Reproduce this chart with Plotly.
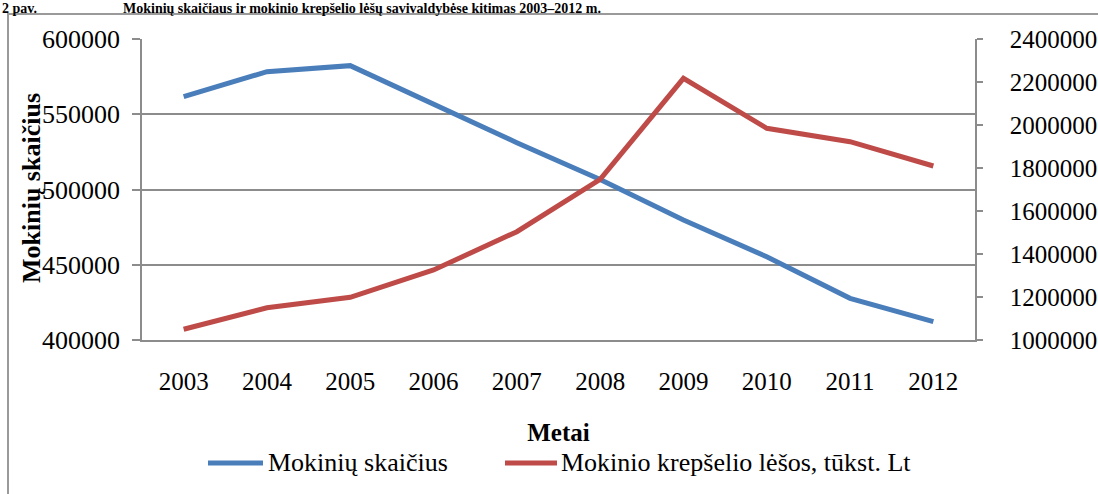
import plotly.graph_objects as go

years = ["2003", "2004", "2005", "2006", "2007", "2008", "2009", "2010", "2011", "2012"]
mokiniai = [561700, 578300, 582300, 556300, 531100, 506700, 479700, 455300, 427700, 412200]
krepselis = [1049800, 1150200, 1198600, 1325600, 1503700, 1747400, 2217200, 1984700, 1922400, 1809300]

left_ticks = [400000, 450000, 500000, 550000, 600000]
right_ticks = [1000000, 1200000, 1400000, 1600000, 1800000, 2000000, 2200000, 2400000]

series_names = ["Mokinių skaičius", "Mokinio krepšelio lėšos, tūkst. Lt"]
series_colors = ["#4A7EBB", "#BE4B48"]

FONT = "Liberation Serif, Times New Roman, DejaVu Serif, serif"
GRAY = "#8c8c8c"

fig = go.Figure()
fig.add_trace(go.Scatter(x=years, y=mokiniai, mode="lines", name=series_names[0],
                         line=dict(color=series_colors[0], width=5), yaxis="y"))
fig.add_trace(go.Scatter(x=years, y=krepselis, mode="lines", name=series_names[1],
                         line=dict(color=series_colors[1], width=5), yaxis="y2"))

W, H = 1098, 494
L, R, T, B = 142, 975, 39, 340

def px(xp):
    return (xp - L) / (R - L)

def py(yp):
    return (B - yp) / (B - T)

fig.update_layout(
    width=W, height=H,
    margin=dict(l=L, r=W - R, t=T, b=H - B, autoexpand=False),
    paper_bgcolor="white", plot_bgcolor="white",
    font=dict(family=FONT, size=25, color="black"),
    showlegend=False,
    xaxis=dict(type="category", range=[-0.5, 9.5], showgrid=False, showline=True,
               linecolor=GRAY, linewidth=1.5, ticks="", ticklabelstandoff=18,
               tickfont=dict(family=FONT, size=25),
               title=dict(text="<b>Metai</b>", font=dict(family=FONT, size=25), standoff=30)),
    yaxis=dict(range=[400000, 600000], tickvals=left_ticks, ticktext=[str(v) for v in left_ticks],
               showgrid=True, gridcolor=GRAY, gridwidth=1.5, showline=True, linecolor=GRAY,
               linewidth=1.5, ticks="outside", ticklen=8, tickcolor=GRAY, tickwidth=1.5,
               ticklabelstandoff=7, tickfont=dict(family=FONT, size=26), zeroline=False),
    yaxis2=dict(range=[1000000, 2400000], tickvals=right_ticks, ticktext=[str(v) for v in right_ticks],
                overlaying="y", side="right", showgrid=False, showline=True, linecolor=GRAY,
                linewidth=1.5, ticks="outside", ticklen=6, tickcolor=GRAY, tickwidth=1.5,
                ticklabelstandoff=22, tickfont=dict(family=FONT, size=25), zeroline=False),
)

# outer chart frame (extends past the right and bottom edges)
fig.add_shape(type="rect", xref="paper", yref="paper",
              x0=px(8), x1=px(1120), y0=py(520), y1=py(14),
              line=dict(color="#9a9a9a", width=2), fillcolor="rgba(0,0,0,0)", layer="below")

# legend drawn in paper space (long line samples as in the original)
legend_items = [(208, 263, 266), (505, 557, 559)]
for (x0, x1, xt), name, color in zip(legend_items, series_names, series_colors):
    fig.add_shape(type="line", xref="paper", yref="paper", x0=px(x0), x1=px(x1),
                  y0=py(463), y1=py(463), line=dict(color=color, width=5))
    fig.add_annotation(text=name, xref="paper", yref="paper", x=px(xt), y=py(463),
                       showarrow=False, xanchor="left", yanchor="middle",
                       font=dict(family=FONT, size=26, color="black"))

# y-axis title overlapping tick labels
fig.add_annotation(text="<b>Mokinių skaičius</b>", xref="paper", yref="paper",
                   x=px(31), y=py(188), textangle=-90, showarrow=False,
                   font=dict(family=FONT, size=26, color="black"),
                   xanchor="center", yanchor="middle")

# figure caption above the frame
fig.add_annotation(text="<b>2 pav.</b>", xref="paper", yref="paper",
                   x=px(0), y=py(8), showarrow=False, xanchor="left", yanchor="middle",
                   font=dict(family=FONT, size=14, color="black"))
fig.add_annotation(text="<b>Mokinių skaičiaus ir mokinio krepšelio lėšų savivaldybėse kitimas 2003–2012 m.</b>",
                   xref="paper", yref="paper", x=px(121), y=py(8), showarrow=False,
                   xanchor="left", yanchor="middle",
                   font=dict(family=FONT, size=14, color="black"))

fig.write_html("out.html", config={"displayModeBar": False},
               post_script="document.body.style.margin='0px';")
